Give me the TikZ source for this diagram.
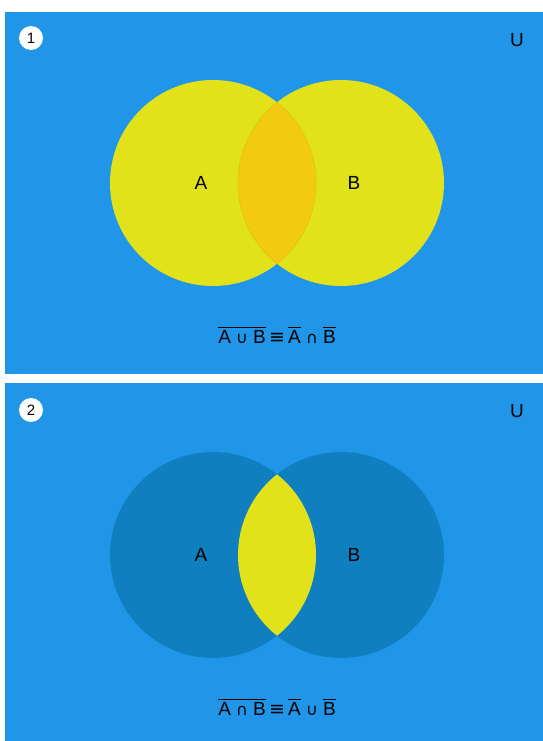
\documentclass[tikz,border=0pt]{standalone}
\usepackage{fontspec}
\setmainfont{Liberation Sans}
\newfontfamily\symfont{DejaVu Sans}
\definecolor{bgblue}{HTML}{2196E8}
\definecolor{vyellow}{HTML}{E2E21B}
\definecolor{lensor}{HTML}{F2CB10}
\definecolor{lensedge}{HTML}{DCC41C}
\definecolor{darkc}{HTML}{0F7FBF}
\newcommand{\ovl}[1]{\leavevmode\vbox{\hrule height 1.4pt\kern 2.2pt\hbox{#1}}}
\newcommand{\sym}[1]{{\symfont\fontsize{16}{16}\selectfont #1}}
\newcommand{\eqv}{{\symfont\fontsize{19}{19}\selectfont ≡}}
\begin{document}
\begin{tikzpicture}[x=1pt,y=-1pt,
  panel/.style={fill=bgblue,draw=none},
  badge/.style={circle,fill=white,minimum size=24pt,inner sep=0pt,font=\fontsize{15}{15}\selectfont},
  lbl/.style={font=\fontsize{19}{19}\selectfont,inner sep=0pt},
  formula/.style={font=\fontsize{19}{19}\selectfont,inner sep=0pt}]
\useasboundingbox (0,0) rectangle (543,741);
\fill[white] (0,0) rectangle (543,741);
% panels
\fill[panel] (5,12) rectangle (543,374);
\fill[panel] (5,383) rectangle (543,741);
% panel 1
\fill[vyellow] (213,183) circle (103);
\fill[vyellow] (341,183) circle (103);
\begin{scope}
  \clip (213,183) circle (103);
  \fill[lensor] (341,183) circle (103);
  \draw[lensedge,line width=0.7pt] (341,183) circle (103);
\end{scope}
\begin{scope}
  \clip (341,183) circle (103);
  \draw[lensedge,line width=0.7pt] (213,183) circle (103);
\end{scope}
\node[badge] (b1) at (31,38) {1};
\node[lbl] (u1) at (517,40) {U};
\node[lbl] (a1) at (201,183) {A};
\node[lbl] (bb1) at (354,183) {B};
\node[formula] (f1) at (277,335) {\ovl{A \sym{∪} B}\,\eqv\,\ovl{A} \sym{∩} \ovl{B}};
% panel 2
\fill[darkc] (213,555) circle (103);
\fill[darkc] (341,555) circle (103);
\begin{scope}
  \clip (213,555) circle (103);
  \fill[vyellow] (341,555) circle (103);
\end{scope}
\node[badge] (b2) at (31,410) {2};
\node[lbl] (u2) at (517,411) {U};
\node[lbl] (a2) at (201,555) {A};
\node[lbl] (bb2) at (354,555) {B};
\node[formula] (f2) at (277,707) {\ovl{A \sym{∩} B}\,\eqv\,\ovl{A} \sym{∪} \ovl{B}};
\end{tikzpicture}
\end{document}
